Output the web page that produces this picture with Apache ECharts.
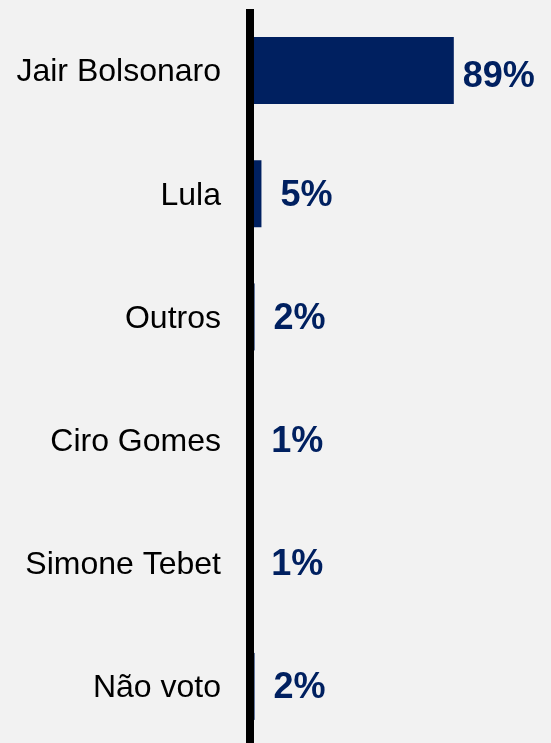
<!DOCTYPE html>
<html>
<head>
<meta charset="utf-8">
<style>
    html, body { margin: 0; padding: 0; background: #f2f2f2; overflow: hidden; }
    /* o eixo passa da borda de baixo no original, por isso 748 */
    #chart { width: 551px; height: 748px; }
</style>
</head>
<body>
<div id="chart"></div>
<script src="https://cdn.jsdelivr.net/npm/echarts@6/dist/echarts.min.js"></script>
<script>
// categorias (de cima para baixo) e percentuais
var categorias = ['Jair Bolsonaro', 'Lula', 'Outros', 'Ciro Gomes', 'Simone Tebet', 'Não voto'];
var valores = [89, 5, 2, 1, 1, 2];

var azul = '#002060';

var chart = echarts.init(document.getElementById('chart'));

// o rótulo do primeiro fica um pouco mais baixo no original
var dados = valores.map(function (v, i) {
    return { value: v, label: { offset: [0, i === 0 ? 6 : 2] } };
});

var option = {
    backgroundColor: '#f2f2f2',
    animation: false,
    grid: {
        left: 250,
        right: 72,
        top: 9,
        bottom: 0
    },
    xAxis: {
        type: 'value',
        min: 0,
        max: 100,
        show: false
    },
    yAxis: {
        type: 'category',
        inverse: true,
        data: categorias,
        z: 10,
        axisLine: { show: true, lineStyle: { color: '#000', width: 8, cap: 'butt' } },
        axisTick: { show: false },
        axisLabel: {
            margin: 29,
            color: '#000',
            fontSize: 32,
            verticalAlign: 'top',
            lineHeight: 4,
            fontFamily: 'Liberation Sans, Arial, sans-serif'
        }
    },
    series: [
        {
            type: 'bar',
            data: dados,
            barWidth: 67,
            itemStyle: { color: azul },
            label: {
                show: true,
                position: 'right',
                distance: 45,
                align: 'center',
                color: azul,
                fontSize: 36,
                fontWeight: 'bold',
                fontFamily: 'Liberation Sans, Arial, sans-serif',
                formatter: function (p) { return p.value + '%'; }
            }
        }
    ]
};

chart.setOption(option);
</script>
</body>
</html>
